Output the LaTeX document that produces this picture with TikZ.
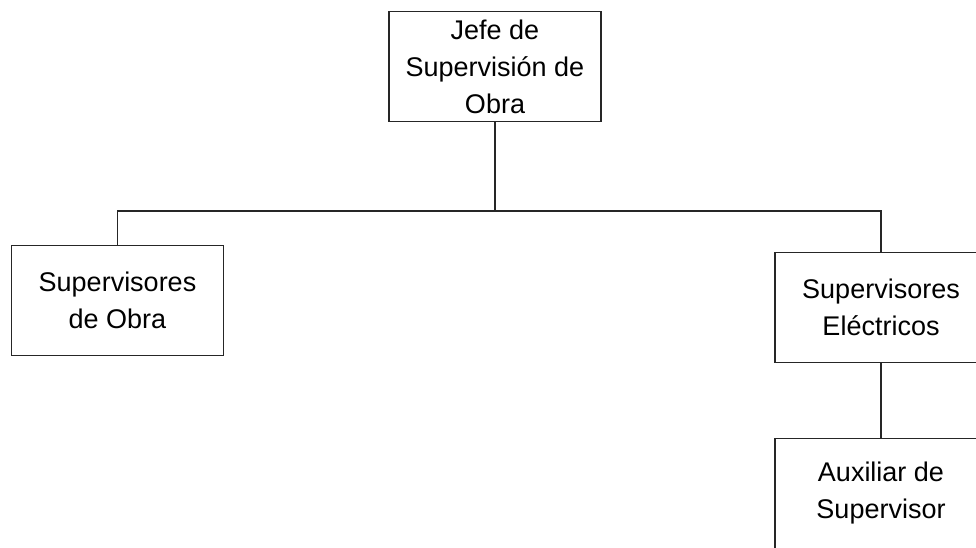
\documentclass[tikz,border=0pt]{standalone}
\usepackage{fontspec}
\setmainfont{Liberation Sans}
\begin{document}
\begin{tikzpicture}[x=1pt,y=-1pt,
  caja/.style={draw=black!85, line width=1.4pt, minimum width=212pt, minimum height=110pt,
    align=center, inner sep=0pt, font=\fontsize{27}{37}\selectfont},
  linea/.style={draw=black!85, line width=1.4pt}]
  \useasboundingbox (0,0) rectangle (976,547);
  \node[caja] (jefe) at (495,66.5) {Jefe de\\Supervisión de\\Obra};
  \node[caja] (supobra) at (117.5,300.5) {Supervisores\\de Obra};
  \node[caja] (supelec) at (881,307.5) {Supervisores\\Eléctricos};
  \node[caja] (auxiliar) at (881,493.5) {Auxiliar de\\Supervisor};
  \coordinate (barra) at (497,211);
  %% lineas del organigrama
  \draw[linea] (jefe.south) -- (jefe.south |- barra);
  \draw[linea] (supobra.north) -- (supobra.north |- barra) -- (supelec.north |- barra) -- (supelec.north);
  \draw[linea] (supelec.south) -- (auxiliar.north);
\end{tikzpicture}
\end{document}
